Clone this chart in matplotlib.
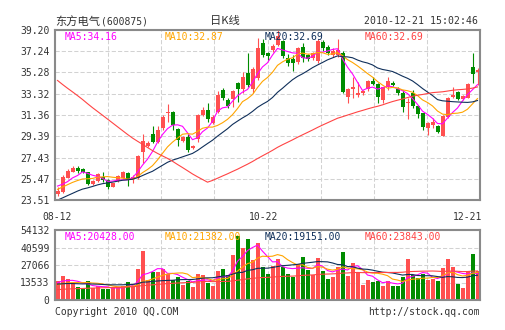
import matplotlib
matplotlib.use("Agg")
import matplotlib.pyplot as plt
import numpy as np
import pandas as pd

plt.rcParams['font.family'] = ['DejaVu Sans Mono']

# ---- daily bars, 2010-08-12 .. 2010-12-21 -------------------------------
opens = [24.06, 24.28, 25.57, 26.12, 26.49, 26.37, 26.06, 24.99, 25.26, 25.66,
         25.35, 24.74, 25.26, 25.51, 26.03, 25.41, 25.51, 27.97, 28.49, 29.60,
         28.89, 30.12, 31.51, 31.66, 30.03, 28.98, 29.29, 28.28, 29.14, 31.35,
         31.81, 30.58, 31.66, 33.66, 32.74, 32.80, 34.28, 33.72, 35.20, 33.72,
         34.74, 38.00, 37.08, 37.38, 37.85, 38.15, 36.60, 36.49, 36.28, 37.66,
         36.89, 36.58, 36.31, 38.10, 37.60, 36.92, 36.92, 37.10, 32.98, 33.72,
         33.20, 33.35, 33.72, 34.52, 34.20, 32.74, 33.97, 34.34, 33.80, 33.41,
         32.43, 33.35, 32.18, 31.51, 30.12, 30.43, 30.34, 29.42, 31.20, 32.98,
         33.50, 32.80, 32.95, 35.82, 35.30]
closes = [24.37, 25.66, 26.18, 26.43, 26.21, 26.06, 24.99, 25.29, 25.88, 25.35,
          24.68, 25.05, 25.72, 26.06, 25.35, 25.66, 27.60, 28.98, 28.80, 28.89,
          29.97, 31.14, 31.66, 30.43, 29.05, 29.29, 28.12, 28.49, 31.35, 31.81,
          30.98, 31.20, 33.20, 32.89, 32.22, 33.60, 33.72, 34.89, 34.12, 35.57,
          37.50, 36.89, 36.80, 37.69, 38.62, 36.77, 36.20, 36.17, 37.50, 36.58,
          36.49, 37.05, 38.15, 37.50, 37.10, 37.23, 37.38, 33.45, 33.72, 33.97,
          33.35, 33.60, 34.52, 34.20, 33.05, 33.93, 34.50, 34.12, 33.35, 32.12,
          32.58, 32.18, 31.45, 30.21, 30.65, 30.74, 29.82, 31.26, 32.89, 33.20,
          32.83, 33.10, 34.18, 35.14, 35.55]
highs = [24.74, 25.82, 26.34, 26.65, 26.68, 26.49, 26.12, 25.38, 26.03, 26.06,
         25.45, 25.10, 25.85, 26.15, 26.12, 25.82, 27.70, 29.60, 28.95, 30.34,
         30.34, 31.35, 32.37, 31.75, 30.20, 29.40, 29.60, 28.60, 31.45, 32.12,
         32.49, 31.35, 33.60, 33.82, 32.90, 33.66, 34.43, 35.35, 37.11, 35.82,
         38.46, 38.40, 37.20, 37.90, 39.23, 38.30, 37.00, 36.89, 37.60, 37.97,
         37.00, 37.20, 38.40, 38.30, 37.80, 37.50, 38.40, 37.30, 33.82, 34.89,
         34.43, 33.70, 34.60, 34.89, 34.28, 33.97, 34.83, 34.50, 33.90, 33.66,
         32.89, 33.66, 32.28, 31.57, 30.74, 31.05, 30.43, 31.35, 33.05, 33.97,
         33.60, 33.20, 34.28, 37.05, 35.66]
lows = [23.88, 24.18, 25.51, 26.06, 26.03, 25.97, 24.92, 24.92, 25.20, 25.20,
        24.49, 24.68, 25.20, 25.45, 24.83, 25.05, 25.45, 26.89, 28.40, 28.74,
        28.80, 30.00, 30.74, 29.97, 28.49, 28.90, 27.97, 28.20, 28.89, 31.30,
        30.74, 30.50, 31.57, 32.74, 32.00, 32.12, 32.60, 33.40, 33.97, 33.35,
        34.60, 36.70, 36.40, 37.20, 37.70, 36.60, 35.90, 35.45, 36.10, 36.28,
        36.30, 36.40, 36.20, 37.30, 36.90, 36.70, 36.75, 33.40, 32.43, 32.89,
        33.05, 33.20, 33.60, 34.12, 32.43, 32.49, 33.66, 34.00, 33.20, 31.66,
        30.95, 31.97, 31.05, 29.97, 29.51, 30.12, 29.66, 29.40, 31.05, 32.89,
        32.70, 32.70, 32.90, 34.28, 34.12]
volumes = [14900, 18600, 15900, 13400, 9800, 9000, 14700, 9000, 10800, 8200,
           8200, 9800, 9800, 10800, 14200, 10800, 24000, 37900, 15500, 21900,
           21900, 23700, 19900, 15500, 17500, 11600, 15000, 10300, 20100, 19300,
           13400, 10800, 22400, 24000, 19300, 34800, 49500, 40500, 47200, 30900,
           44300, 25800, 20100, 26300, 31700, 25300, 20100, 18000, 27800, 33500,
           23200, 19300, 32700, 22400, 16200, 18000, 25800, 37400, 18600, 28900,
           21900, 11600, 15500, 14200, 14700, 11000, 14500, 10800, 11200, 17800,
           31800, 19600, 17000, 20000, 15500, 16000, 14500, 24500, 31500, 25180,
           12200, 9200, 22500, 35500, 22740]

# earlier sessions that feed the moving averages (oldest first)
prior_closes = [47.8, 47.2, 46.5, 46.9, 47.5, 48.1, 47.6, 46.8, 46.2, 45.9,
                46.4, 47.0, 47.3, 46.6, 45.8, 45.2, 45.9, 46.5, 46.1, 45.5,
                45.0, 45.6, 46.2, 46.8, 46.3, 45.7, 46.4, 47.1, 46.6, 46.0,
                21.6, 21.0, 20.5, 20.2, 20.6, 21.1, 20.9, 20.4, 20.7, 21.2,
                21.6, 21.9, 22.3, 22.0, 22.4, 22.8, 22.6, 23.0, 23.1, 23.3,
                23.6, 24.0, 24.3, 24.5, 24.6, 24.8, 25.0, 24.7, 25.1]
prior_volumes = [2300, 2800, 2500, 2100, 2600, 3000, 2700, 2400, 2200, 2500,
                 2900, 2600, 2300, 2400, 2800, 2700, 2500, 2200, 2600, 2900,
                 2400, 2500, 2700, 2300, 2600, 2800, 2500, 2400, 2600, 2500,
                 22400, 19800, 17500, 15200, 14600, 16300, 13900, 13100, 12500, 12200,
                 13500, 12100, 14000, 12600, 11800, 13200, 12400, 13000, 12700, 12700,
                 10600, 9800, 10400, 9900, 10300, 12400, 13600, 12900, 13200]

price_ticks = [23.51, 25.47, 27.43, 29.39, 31.36, 33.32, 35.28, 37.24, 39.20]
price_tick_labels = ['23.51', '25.47', '27.43', '29.39', '31.36', '33.32',
                     '35.28', '37.24', '39.20']
vol_ticks = [0, 13533, 27066, 40599, 54132]
vol_tick_labels = ['0', '13533', '27066', '40599', '54132']
date_labels = ['08-12', '10-22', '12-21']
date_positions = [0, 41.3, 82.1]

ma_windows = [5, 10, 20, 60]
price_ma_text = ['MA5:34.16', 'MA10:32.87', 'MA20:32.69', 'MA60:32.69']
vol_ma_text = ['MA5:20428.00', 'MA10:21382.00', 'MA20:19151.00', 'MA60:23843.00']

title_name = '东方电气'
title_code = '(600875)'
title_period = '日K线'
stamp = '2010-12-21 15:02:46'
footer_left = 'Copyright 2010 QQ.COM'
footer_right = 'http://stock.qq.com'

# ---- styling -------------------------------------------------------------
RED = '#ff5050'
GREEN = '#008c00'
MA_COLORS = ['#ff00ff', '#ffa500', '#0f2f5a', '#ff4444']
FRAME = '#8a8a8a'
GRID = '#d2d2d2'
TEXT = '#333333'
CJK = ['Noto Sans CJK SC', 'DejaVu Sans']

W, H = 505, 330
fig = plt.figure(figsize=(W / 100, H / 100), dpi=100)
fig.patch.set_facecolor('white')


def box(left, top, right, bottom):
    return [left / W, 1 - bottom / H, (right - left) / W, (bottom - top) / H]


def fx(px):
    return px / W


def fy(py):
    return 1 - py / H


ax = fig.add_axes(box(55, 30, 480, 200))
axv = fig.add_axes(box(55, 230, 480, 300))

n = len(closes)
x = np.arange(n)
o = np.array(opens)
c = np.array(closes)
hi = np.array(highs)
lo = np.array(lows)
colors = np.where(c >= o, RED, GREEN)

grid_x = -0.5 + n * np.arange(1, 8) / 8

for a in (ax, axv):
    a.set_xlim(-0.5, n - 0.5)
    a.set_axisbelow(True)
    a.set_xticks(grid_x)
    a.tick_params(axis='x', length=0, labelbottom=False)
    a.tick_params(axis='y', length=0, pad=4, labelsize=7, labelcolor=TEXT)
    a.grid(True, color=GRID, lw=0.75, linestyle=(0, (4, 2)))
    for s in a.spines.values():
        s.set_color(FRAME)
        s.set_linewidth(1.5)
        s.set_zorder(5)

# candles
ax.vlines(x, lo, hi, colors=colors, lw=0.8, zorder=2)
body = np.maximum(np.abs(c - o), 0.06)
ax.bar(x, body, bottom=np.minimum(o, c), width=0.8, color=colors,
       linewidth=0, zorder=3)
ax.set_ylim(price_ticks[0], price_ticks[-1])
ax.set_yticks(price_ticks)
ax.set_yticklabels(price_tick_labels)

# volume bars
axv.bar(x, volumes, width=0.8, color=colors, linewidth=0, zorder=2)
axv.set_ylim(vol_ticks[0], vol_ticks[-1])
axv.set_yticks(vol_ticks)
axv.set_yticklabels(vol_tick_labels)

# moving averages over the full history, shown for the visible window
close_all = pd.Series(prior_closes + closes, dtype=float)
vol_all = pd.Series(prior_volumes + volumes, dtype=float)
k = len(prior_closes)
for w, col in zip(ma_windows, MA_COLORS):
    ax.plot(x, close_all.rolling(w).mean().to_numpy()[k:], color=col,
            lw=0.8, zorder=4)
    axv.plot(x, vol_all.rolling(w).mean().to_numpy()[k:], color=col,
             lw=0.8, zorder=4)

# moving-average captions
for i, (t1, t2, col) in enumerate(zip(price_ma_text, vol_ma_text, MA_COLORS)):
    fig.text(fx(65 + 100 * i), fy(37), t1, color=col, fontsize=7,
             ha='left', va='center', zorder=6)
    fig.text(fx(65 + 100 * i), fy(236.5), t2, color=col, fontsize=7,
             ha='left', va='center', zorder=6)

# date labels under the price panel
for pos, lab in zip(date_positions, date_labels):
    ax.annotate(lab, xy=(pos, 0), xycoords=('data', 'axes fraction'),
                xytext=(0, -16.5), textcoords='offset pixels',
                ha='center', va='center', fontsize=7, color=TEXT)

# header
fig.text(fx(55), fy(21), title_name, family=CJK, fontsize=8.1, color=TEXT,
         ha='left', va='center')
fig.text(fx(101), fy(21.5), title_code, fontsize=7, color=TEXT,
         ha='left', va='center')
fig.text(fx(225), fy(21), title_period, family=CJK, fontsize=8.1,
         color=TEXT, ha='center', va='center')
fig.text(fx(478), fy(21.5), stamp, fontsize=7.1, color=TEXT,
         ha='right', va='center')

# footer
fig.text(fx(55), fy(312), footer_left, fontsize=7, color=TEXT,
         ha='left', va='center')
fig.text(fx(480), fy(312), footer_right, fontsize=7, color=TEXT,
         ha='right', va='center')

fig.savefig('out.png', dpi=100, facecolor='white')
